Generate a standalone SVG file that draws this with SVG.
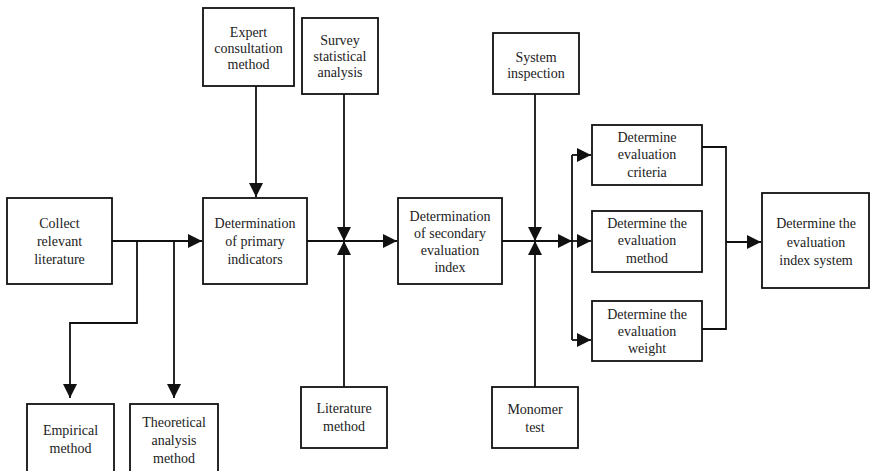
<svg xmlns="http://www.w3.org/2000/svg" width="870" height="471" viewBox="0 0 870 471">
<style>
.box{fill:#fff;stroke:#111;stroke-width:1.8}
text{font-family:'Liberation Serif','Times New Roman',serif;font-size:14px;fill:#222;text-anchor:middle}
.c{fill:none;stroke:#111;stroke-width:1.8}
</style>
<defs>
<marker id="ar" markerUnits="userSpaceOnUse" markerWidth="15" markerHeight="15" refX="14" refY="7" orient="auto">
<path d="M0,0 L14,7 L0,14 z" fill="#111"/>
</marker>
</defs>
<rect width="870" height="471" fill="#fff"/>
<g id="connectors">
<path class="c" d="M112,241 H202" marker-end="url(#ar)"/>
<path class="c" d="M137,241 V323 H70 V398" marker-end="url(#ar)"/>
<path class="c" d="M174,241 V398" marker-end="url(#ar)"/>
<path class="c" d="M256,86 V197" marker-end="url(#ar)"/>
<path class="c" d="M307,241 H397" marker-end="url(#ar)"/>
<path class="c" d="M344,94 V241" marker-end="url(#ar)"/>
<path class="c" d="M344,387 V241" marker-end="url(#ar)"/>
<path class="c" d="M502,241 H572" marker-end="url(#ar)"/>
<path class="c" d="M535,94 V241" marker-end="url(#ar)"/>
<path class="c" d="M535,387 V241" marker-end="url(#ar)"/>
<path class="c" d="M572,155 V340"/>
<path class="c" d="M572,155 H591" marker-end="url(#ar)"/>
<path class="c" d="M572,241 H591" marker-end="url(#ar)"/>
<path class="c" d="M572,340 H591" marker-end="url(#ar)"/>
<path class="c" d="M702,147 H726 V329 H702"/>
<path class="c" d="M726,242 H761" marker-end="url(#ar)"/>
</g>
<g id="collect"><rect class="box" x="7" y="198" width="105" height="86"/>
<text x="59.5" y="228">Collect</text><text x="59.5" y="246">relevant</text><text x="59.5" y="264">literature</text></g>
<g id="primary"><rect class="box" x="203" y="198" width="104" height="86"/>
<text x="255" y="228">Determination</text><text x="255" y="246">of primary</text><text x="255" y="264">indicators</text></g>
<g id="expert"><rect class="box" x="203" y="8" width="91" height="78"/>
<text x="248.5" y="37">Expert</text><text x="248.5" y="53">consultation</text><text x="248.5" y="69">method</text></g>
<g id="survey"><rect class="box" x="302" y="18" width="76" height="76"/>
<text x="340" y="45">Survey</text><text x="340" y="61">statistical</text><text x="340" y="77">analysis</text></g>
<g id="secondary"><rect class="box" x="398" y="198" width="104" height="86"/>
<text x="450" y="221">Determination</text><text x="450" y="238">of secondary</text><text x="450" y="255">evaluation</text><text x="450" y="272">index</text></g>
<g id="system"><rect class="box" x="493" y="33" width="86" height="61"/>
<text x="536" y="62">System</text><text x="536" y="78">inspection</text></g>
<g id="monomer"><rect class="box" x="492" y="387" width="86" height="61"/>
<text x="535" y="414">Monomer</text><text x="535" y="432">test</text></g>
<g id="literature"><rect class="box" x="301" y="387" width="86" height="61"/>
<text x="344" y="413">Literature</text><text x="344" y="431">method</text></g>
<g id="empirical"><rect class="box" x="27" y="404" width="87" height="80"/>
<text x="70.5" y="435">Empirical</text><text x="70.5" y="453">method</text></g>
<g id="theoretical"><rect class="box" x="130" y="404" width="88" height="80"/>
<text x="174" y="427">Theoretical</text><text x="174" y="445">analysis</text><text x="174" y="463">method</text></g>
<g id="criteria"><rect class="box" x="592" y="125" width="110" height="60"/>
<text x="647" y="142">Determine</text><text x="647" y="159">evaluation</text><text x="647" y="177">criteria</text></g>
<g id="method"><rect class="box" x="592" y="211" width="110" height="61"/>
<text x="647" y="228">Determine the</text><text x="647" y="245">evaluation</text><text x="647" y="263">method</text></g>
<g id="weight"><rect class="box" x="592" y="301" width="110" height="60"/>
<text x="647" y="319">Determine the</text><text x="647" y="336">evaluation</text><text x="647" y="353">weight</text></g>
<g id="system-final"><rect class="box" x="762" y="193" width="107" height="95"/>
<text x="816" y="228">Determine the</text><text x="816" y="247">evaluation</text><text x="816" y="265">index system</text></g>
</svg>
